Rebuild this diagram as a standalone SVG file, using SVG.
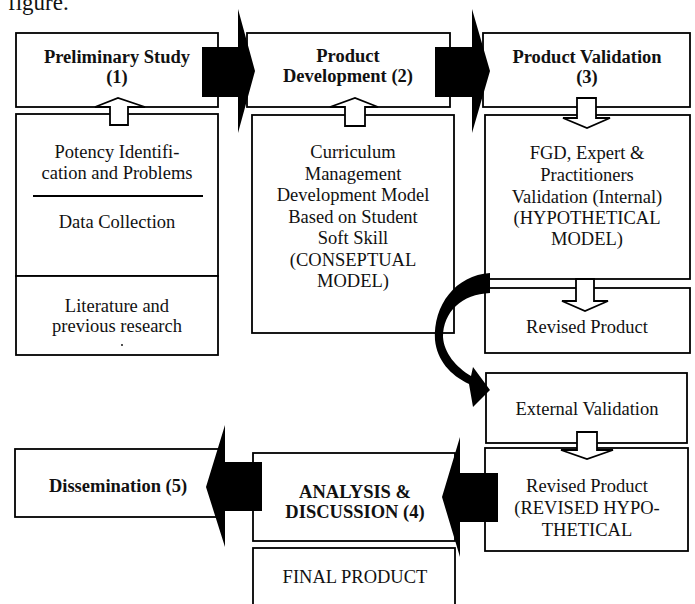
<svg xmlns="http://www.w3.org/2000/svg" width="695" height="604" viewBox="0 0 695 604" font-family="Liberation Serif, Times New Roman, serif">
  <style>
    .box { fill: #ffffff; stroke: #000000; stroke-width: 1.8; }
    .t { font-family: 'Liberation Serif', serif; font-size: 18.5px; fill: #111111; text-anchor: middle; }
    .b { font-weight: bold; }
    .hollow { fill: #ffffff; stroke: #000000; stroke-width: 1.8; stroke-linejoin: miter; }
    .solid { fill: #000000; stroke: none; }
  </style>

  <rect width="695" height="604" fill="#ffffff"/>
  <text x="8" y="10" font-family="Liberation Serif, serif" font-size="23" fill="#111111">figure.</text>

  <!-- Stage 1 -->
  <g id="preliminary-study">
    <rect class="box" x="16" y="33" width="202" height="74"/>
    <text class="t b" x="117" y="63">Preliminary Study</text>
    <text class="t b" x="117" y="83">(1)</text>
  </g>
  <g id="potency-data">
    <rect class="box" x="16" y="114" width="202" height="162"/>
    <text class="t" x="117" y="158">Potency Identifi-</text>
    <text class="t" x="117" y="179">cation and Problems</text>
    <line x1="33" y1="196" x2="203" y2="196" stroke="#000" stroke-width="1.8"/>
    <text class="t" x="117" y="228">Data Collection</text>
  </g>
  <g id="literature">
    <rect class="box" x="16" y="276" width="202" height="79"/>
    <text class="t" x="117" y="312">Literature and</text>
    <text class="t" x="117" y="332">previous research</text>
    <circle cx="122" cy="345" r="0.9" fill="#000"/>
  </g>

  <!-- Stage 2 -->
  <g id="product-development">
    <rect class="box" x="247" y="33" width="203" height="74"/>
    <text class="t b" x="348" y="62">Product</text>
    <text class="t b" x="348" y="82">Development (2)</text>
  </g>
  <g id="conceptual-model">
    <rect class="box" x="252" y="115" width="202" height="218"/>
    <text class="t" x="353" y="158">Curriculum</text>
    <text class="t" x="353" y="180">Management</text>
    <text class="t" x="353" y="201">Development Model</text>
    <text class="t" x="353" y="223">Based on Student</text>
    <text class="t" x="353" y="244">Soft Skill</text>
    <text class="t" x="353" y="266">(CONSEPTUAL</text>
    <text class="t" x="353" y="287">MODEL)</text>
  </g>

  <!-- Stage 3 -->
  <g id="product-validation">
    <rect class="box" x="483" y="33" width="207" height="74"/>
    <text class="t b" x="587" y="63">Product Validation</text>
    <text class="t b" x="587" y="83">(3)</text>
  </g>
  <g id="internal-validation">
    <rect class="box" x="485" y="115" width="205" height="164"/>
    <text class="t" x="587" y="159">FGD, Expert &amp;</text>
    <text class="t" x="587" y="181">Practitioners</text>
    <text class="t" x="587" y="203">Validation (Internal)</text>
    <text class="t" x="587" y="224">(HYPOTHETICAL</text>
    <text class="t" x="587" y="245">MODEL)</text>
  </g>
  <g id="revised-product">
    <rect class="box" x="485" y="288" width="205" height="65"/>
    <text class="t" x="587" y="333">Revised Product</text>
  </g>
  <g id="external-validation">
    <rect class="box" x="486" y="373" width="201" height="70"/>
    <text class="t" x="587" y="415">External Validation</text>
  </g>
  <g id="revised-hypothetical">
    <rect class="box" x="485" y="448" width="203" height="103"/>
    <text class="t" x="587" y="492">Revised Product</text>
    <text class="t" x="587" y="514">(REVISED HYPO-</text>
    <text class="t" x="587" y="536">THETICAL</text>
  </g>

  <!-- Stage 4 -->
  <g id="analysis-discussion">
    <rect class="box" x="253" y="453" width="202" height="88"/>
    <text class="t b" x="355" y="498">ANALYSIS &amp;</text>
    <text class="t b" x="355" y="518">DISCUSSION (4)</text>
  </g>
  <g id="final-product">
    <rect class="box" x="253" y="548" width="202" height="70"/>
    <text class="t" x="355" y="583">FINAL PRODUCT</text>
  </g>

  <!-- Stage 5 -->
  <g id="dissemination">
    <rect class="box" x="15" y="449" width="205" height="68"/>
    <text class="t b" x="118" y="492">Dissemination (5)</text>
  </g>

  <!-- Connectors -->
  <g id="connectors">
    <!-- hollow arrows between stacked boxes -->
    <polygon class="hollow" points="110,125 110,107 95,107 118,98 145,107 128,107 128,125"/>
    <polygon class="hollow" points="345,126 345,107 330,107 355,98 378,107 365,107 365,126"/>
    <polygon class="hollow" points="577,98 577,118 563,118 587,128 610,118 596,118 596,98"/>
    <polygon class="hollow" points="576,279 576,301 562,301 585,311 608,301 594,301 594,279"/>
    <polygon class="hollow" points="577,432 577,450 561,450 587,459 613,450 597,450 597,432"/>

    <!-- solid block arrows between stages -->
    <polygon class="solid" points="202,47 238,47 238,9 255,71 238,133 238,97 202,97"/>
    <polygon class="solid" points="435,47 472,47 472,9 490,71 472,133 472,97 435,97"/>
    <polygon class="solid" points="498,473 460,473 460,437 442,497 460,557 460,522 498,522"/>
    <polygon class="solid" points="262,462 225,462 225,425 206,487 225,547 225,511 262,511"/>

    <!-- curved arrow from internal to external validation -->
    <path class="solid" d="M 490 273 C 456 275 433 305 435 340 C 437 360 450 375 469 384 L 473 407 L 490 390 L 473 367 L 471 376 C 456 367 444 353 443 337 C 443 312 462 294 490 293 Z"/>
  </g>
</svg>
